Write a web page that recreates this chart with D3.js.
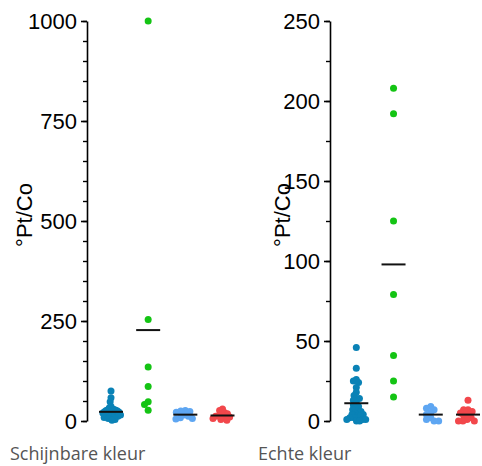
<!DOCTYPE html>
<html><head><meta charset="utf-8">
<script src="https://cdn.jsdelivr.net/npm/d3@7"></script>
<style>body{margin:0;background:#fff}svg{display:block}</style>
</head><body><svg id="chart" width="482" height="466"></svg>
<script>
// ---- data ----
const groups = ["g1", "g2", "g3", "g4"];
const groupColors = ["#0a82b6", "#14c414", "#5ea6f2", "#f2474b"];
const schijnbareG1 = [75, 58, 48, 36, 33, 30, 29, 28, 27, 26, 25, 24, 23, 22, 21, 20, 19, 18, 17, 16, 15, 14, 13, 12, 10, 9, 8, 6, 4, 2];
const schijnbareG2 = [1000, 254, 135, 86, 48, 41, 27];
const schijnbareG3 = [26, 25, 24, 22, 15, 12, 8, 6, 5];
const schijnbareG4 = [30, 26, 21, 18, 15, 13, 12, 10, 8, 6, 4, 2];
const echteG1 = [46, 33, 26, 25, 24, 21, 18, 16, 14, 14, 13, 11, 10, 9, 8, 7, 6, 6, 5, 4, 4, 3, 3, 2, 2, 1, 1, 1, 0, 0];
const echteG2 = [208, 192, 125, 79, 41, 25, 15];
const echteG3 = [9, 8, 7, 5, 4, 2, 1, 0, 0];
const echteG4 = [13, 7, 7, 6, 5, 4, 3, 2, 1, 0, 0, 0];
const leftMajorTicks = [0, 250, 500, 750, 1000];
const rightMajorTicks = [0, 50, 100, 150, 200, 250];
const panelLabels = ["Schijnbare kleur", "Echte kleur"];
const yTitle = "°Pt/Co";

const panels = [
  { series: [schijnbareG1, schijnbareG2, schijnbareG3, schijnbareG4], max: 1000, major: leftMajorTicks, minorStep: 50,
    axisX: 87, xRange: [111, 222.5], titleX: 32, label: panelLabels[0], labelX: 10 },
  { series: [echteG1, echteG2, echteG3, echteG4], max: 250, major: rightMajorTicks, minorStep: 25,
    axisX: 330, xRange: [356.3, 468], titleX: 290, label: panelLabels[1], labelX: 258 }
];

const svg = d3.select("#chart");
const yTop = 21, yBottom = 421;
const R = 3.5, D = 4.6, MAXHALF = 9.5;

function swarm(vals, y, cx) {
  const pts = vals.map(v => ({ v, y: y(v) })).sort((a, b) => a.y - b.y);
  const placed = [];
  for (const p of pts) {
    const cands = [0];
    for (const q of placed) {
      const dy = Math.abs(q.y - p.y);
      if (dy < D) { const dx = Math.sqrt(D * D - dy * dy); cands.push(q.dx + dx, q.dx - dx); }
    }
    cands.sort((a, b) => Math.abs(a) - Math.abs(b) || a - b);
    for (const c of cands) {
      if (placed.every(q => (q.dx - c) ** 2 + (q.y - p.y) ** 2 >= D * D - 1e-6)) { p.dx = c; break; }
    }
    placed.push(p);
  }
  const w = d3.max(placed, p => Math.abs(p.dx)) || 0;
  const k = w > MAXHALF ? MAXHALF / w : 1;
  return placed.map(p => ({ v: p.v, x: cx + p.dx * k, y: p.y }));
}

panels.forEach(P => {
  const y = d3.scaleLinear().domain([0, P.max]).range([yBottom, yTop]);
  const x = d3.scalePoint().domain(groups).range(P.xRange);
  const g = svg.append("g");

  // minor ticks
  const minor = d3.range(0, P.max + 1e-9, P.minorStep);
  g.append("g").attr("transform", `translate(${P.axisX},0)`)
    .call(d3.axisLeft(y).tickValues(minor).tickSize(4).tickFormat(""))
    .call(a => a.select(".domain").remove())
    .selectAll("line").attr("stroke", "#000").attr("stroke-width", 1.4);
  // major axis
  const ax = g.append("g").attr("transform", `translate(${P.axisX},0)`)
    .call(d3.axisLeft(y).tickValues(P.major).tickSize(6).tickSizeOuter(0).tickPadding(4).tickFormat(d3.format("d")));
  ax.select(".domain").attr("stroke", "#000").attr("stroke-width", 1.6);
  ax.selectAll(".tick line").attr("stroke", "#000").attr("stroke-width", 1.6);
  ax.selectAll(".tick text").attr("font-family", "Liberation Sans, Arial, sans-serif")
    .attr("font-size", 22).attr("fill", "#000");

  // y title
  g.append("text").text(yTitle)
    .attr("transform", `translate(${P.titleX},215) rotate(-90)`)
    .attr("text-anchor", "middle")
    .attr("font-family", "Liberation Sans, Arial, sans-serif").attr("font-size", 22).attr("fill", "#000");

  // points and mean lines
  P.series.forEach((vals, i) => {
    const cx = x(groups[i]);
    const pts = swarm(vals, y, cx);
    g.append("g").selectAll("circle").data(pts).join("circle")
      .attr("cx", d => d.x).attr("cy", d => d.y).attr("r", R)
      .attr("fill", groupColors[i]);
    const m = d3.mean(vals);
    g.append("line").attr("x1", cx - 12).attr("x2", cx + 12)
      .attr("y1", y(m)).attr("y2", y(m))
      .attr("stroke", "#111").attr("stroke-width", 2);
  });

  // panel label
  g.append("text").text(P.label)
    .attr("x", P.labelX).attr("y", 460)
    .attr("font-family", "Open Sans, sans-serif").attr("font-size", 18)
    .attr("fill", "#555");
});
</script>
</body></html>
